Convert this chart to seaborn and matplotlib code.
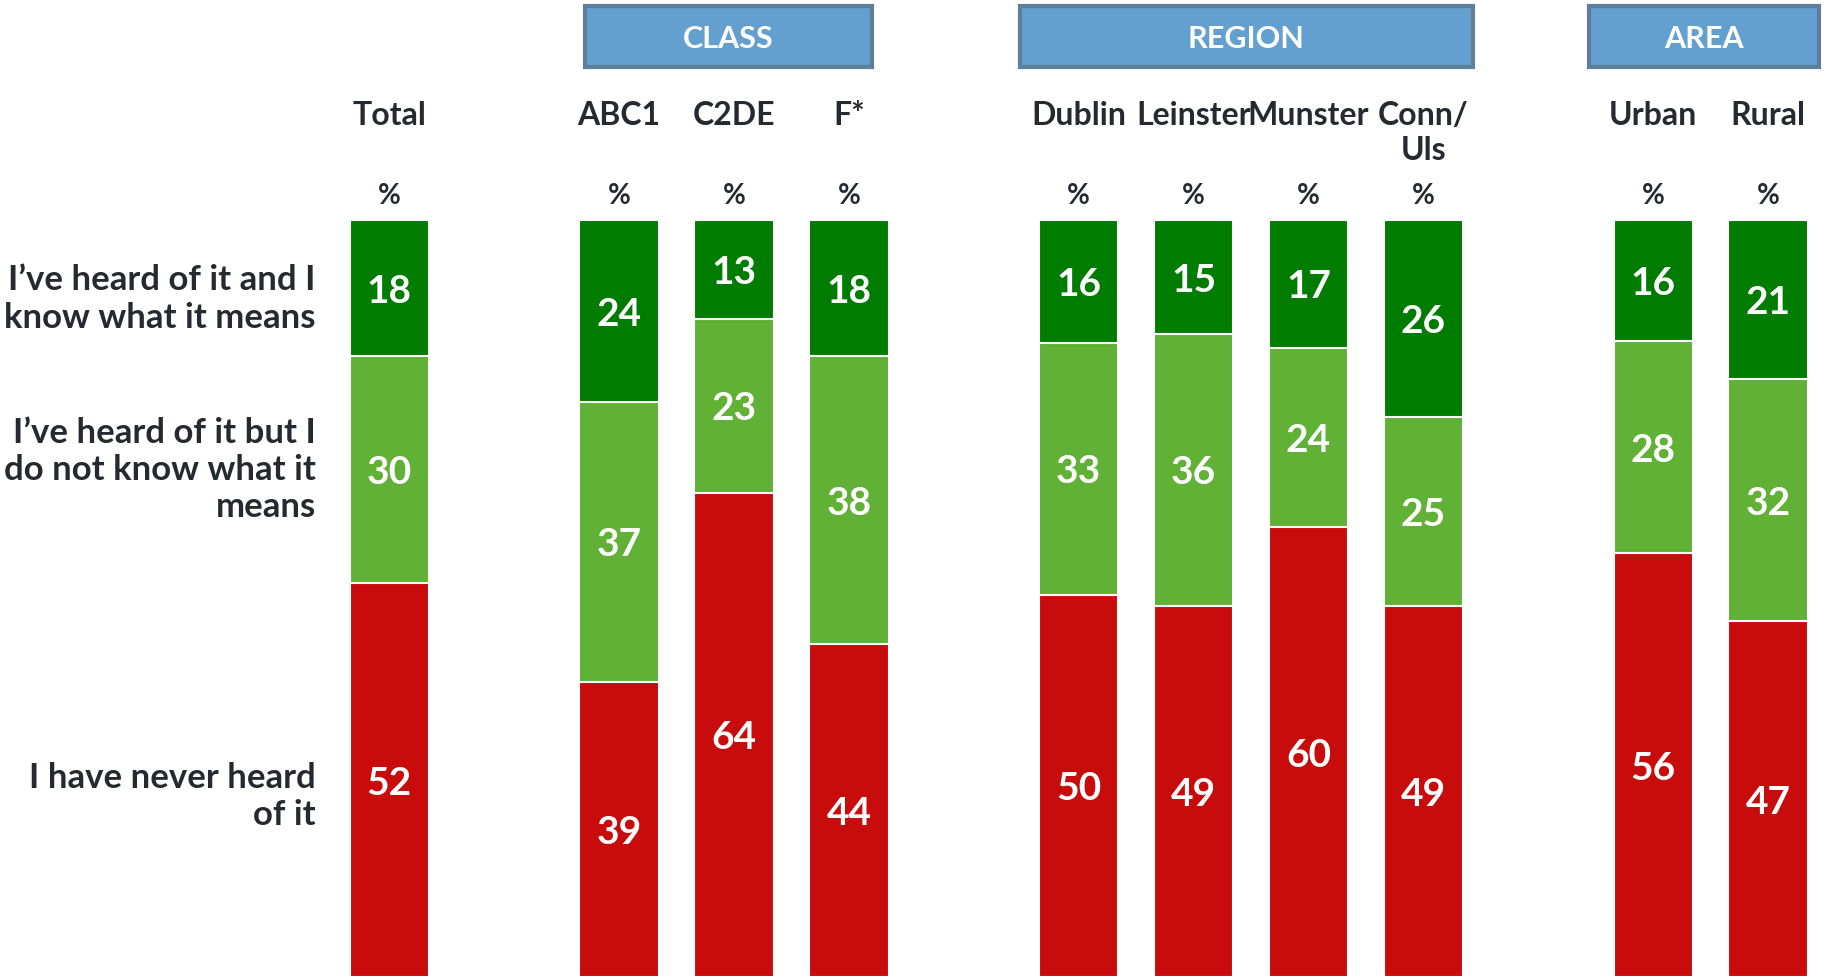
#!/usr/bin/env python3
# awareness_stacked.py - stacked awareness bars by class / region / area

import matplotlib
matplotlib.use('Agg')
import matplotlib.pyplot as plt
from matplotlib.patches import Rectangle
import pandas as pd
import seaborn as sns

# Data =========================================================================

categories = ['Total', 'ABC1', 'C2DE', 'F*', 'Dublin', 'Leinster', 'Munster',
              'Conn/\nUls', 'Urban', 'Rural']
know_meaning = [18, 24, 13, 18, 16, 15, 17, 26, 16, 21]
not_know_meaning = [30, 37, 23, 38, 33, 36, 24, 25, 28, 32]
never_heard = [52, 39, 64, 44, 50, 49, 60, 49, 56, 47]
row_labels = ["I\u2019ve heard of it and I\nknow what it means",
              "I\u2019ve heard of it but I\ndo not know what it\nmeans",
              "I have never heard\nof it"]
groups = ['CLASS', 'REGION', 'AREA']

# Layout =======================================================================

positions = [0, 2, 3, 4, 6, 7, 8, 9, 11, 12]
group_spans = [(1.70, 4.20), (5.49, 9.43), (10.44, 12.44)]
row_label_y = [89.6, 67.0, 23.9]

DARK_GREEN = '#007d00'
LIGHT_GREEN = '#60b135'
RED = '#c80c0c'
TEXT = '#262a30'
BOX_FILL = '#63a0cf'
BOX_EDGE = '#5e7f9b'


def main():
    sns.set_style('white')
    plt.rcParams['font.family'] = ['Lato', 'DejaVu Sans']

    totals = [a + b + c for a, b, c in zip(know_meaning, not_know_meaning, never_heard)]
    df = pd.DataFrame({
        'pos': positions,
        'never': [c / t * 100 for c, t in zip(never_heard, totals)],
        'middle': [(b + c) / t * 100 for b, c, t in zip(not_know_meaning, never_heard, totals)],
        'top': [100.0] * len(positions),
    })

    fig = plt.figure(figsize=(18.33, 9.77), dpi=100)
    ax = fig.add_axes([0, 0, 1, 1])

    for col, color in (('top', DARK_GREEN), ('middle', LIGHT_GREEN), ('never', RED)):
        sns.barplot(
            data=df, x='pos', y=col, native_scale=True, color=color,
            saturation=1, width=0.69, errorbar=None, edgecolor='white',
            linewidth=1.5, ax=ax
        )

    # value labels centred in each segment
    for i, p in enumerate(positions):
        segs = (
            (df['middle'][i], df['top'][i], know_meaning[i]),
            (df['never'][i], df['middle'][i], not_know_meaning[i]),
            (0, df['never'][i], never_heard[i]),
        )
        for lo, hi, val in segs:
            ax.text(p, (lo + hi) / 2 - 0.4, str(val), ha='center', va='center',
                    color='white', fontsize=28, fontweight='bold')
        ax.text(p, 115.8, categories[i], ha='center', va='top',
                color=TEXT, fontsize=23, fontweight='bold', linespacing=1.25)
        ax.text(p, 103.2, '%', ha='center', va='center',
                color=TEXT, fontsize=20, fontweight='bold')

    for label, y in zip(row_labels, row_label_y):
        ax.text(-0.64, y, label, ha='right', va='center', color=TEXT,
                fontsize=25, fontweight='bold', linespacing=1.2)

    for name, (x0, x1) in zip(groups, group_spans):
        ax.add_patch(Rectangle((x0, 120.3), x1 - x0, 8.0, facecolor=BOX_FILL,
                               edgecolor=BOX_EDGE, linewidth=3, clip_on=False))
        ax.text((x0 + x1) / 2, 123.9, name, ha='center', va='center',
                color='white', fontsize=22, fontweight='bold')

    ax.set_xlim(-3.388, 12.565)
    ax.set_ylim(0, 129.1)
    ax.axis('off')
    fig.savefig('out.png', dpi=100)


if __name__ == '__main__':
    main()
